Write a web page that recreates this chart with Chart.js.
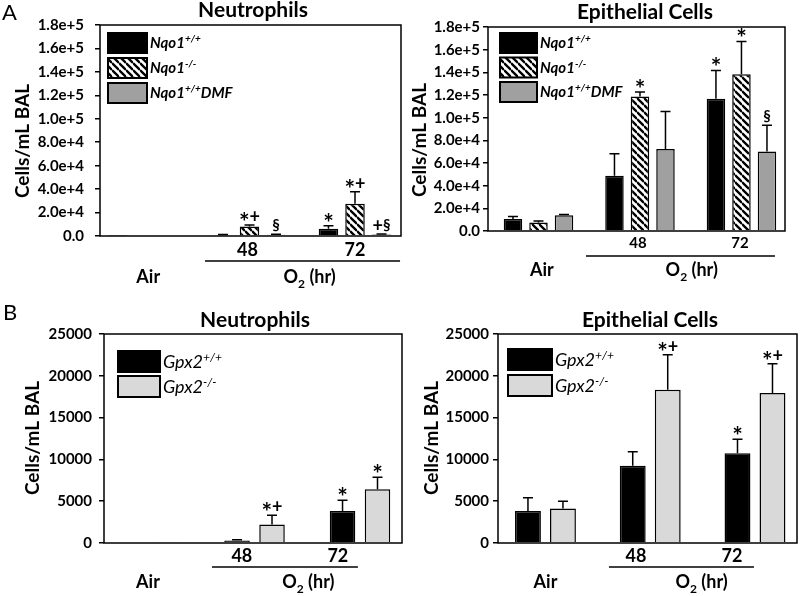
<!DOCTYPE html>
<html>
<head>
<meta charset="utf-8">
<script src="https://cdn.jsdelivr.net/npm/chart.js@4.4.1/dist/chart.umd.min.js"></script>
<style>
  html, body { margin: 0; background: #fff; }
  #wrap { position: relative; width: 800px; height: 596px; }
  #wrap canvas { position: absolute; left: 0; top: 0; }
</style>
</head>
<body>
<div id="wrap">
  <canvas id="aNeu" width="800" height="596"></canvas>
  <canvas id="aEpi" width="800" height="596"></canvas>
  <canvas id="bNeu" width="800" height="596"></canvas>
  <canvas id="bEpi" width="800" height="596"></canvas>
</div>
<script>
// groups on the x axis
const groups = ['Air', '48', '72'];

// y tick labels
const yTicksNqo = ['0.0', '2.0e+4', '4.0e+4', '6.0e+4', '8.0e+4', '1.0e+5', '1.2e+5', '1.4e+5', '1.6e+5', '1.8e+5'];
const yTicksGpx = ['0', '5000', '10000', '15000', '20000', '25000'];

// A - Nqo1, neutrophils (cells/mL BAL), error = SEM above the bar
const nqoWtNeu = [300, 900, 6200];
const nqoWtNeuErr = [0, 300, 2600];
const nqoWtNeuSig = ['', '', '*'];
const nqoKoNeu = [400, 8000, 27600];
const nqoKoNeuErr = [0, 1400, 10200];
const nqoKoNeuSig = ['', '*+', '*+'];
const nqoDmfNeu = [700, 1000, 1200];
const nqoDmfNeuErr = [0, 500, 600];
const nqoDmfNeuSig = ['', '§', '+§'];

// A - Nqo1, epithelial cells
const nqoWtEpi = [10600, 48800, 116700];
const nqoWtEpiErr = [2300, 19400, 25000];
const nqoWtEpiSig = ['', '', '*'];
const nqoKoEpi = [7600, 118700, 138200];
const nqoKoEpiErr = [1200, 3900, 29100];
const nqoKoEpiSig = ['', '*', '*'];
const nqoDmfEpi = [13800, 72300, 70200];
const nqoDmfEpiErr = [800, 33200, 23000];
const nqoDmfEpiSig = ['', '', '§'];

// B - Gpx2, neutrophils
const gpxWtNeu = [0, 290, 3840];
const gpxWtNeuErr = [0, 110, 1260];
const gpxWtNeuSig = ['', '', '*'];
const gpxKoNeu = [60, 2200, 6440];
const gpxKoNeuErr = [0, 1120, 1410];
const gpxKoNeuSig = ['', '*+', '*'];

// B - Gpx2, epithelial cells
const gpxWtEpi = [3840, 9240, 10730];
const gpxWtEpiErr = [1560, 1680, 1670];
const gpxWtEpiSig = ['', '', '*'];
const gpxKoEpi = [4130, 18320, 17930];
const gpxKoEpiErr = [870, 4200, 3510];
const gpxKoEpiSig = ['', '*+', '*+'];

// legend names (rich text parts)
const nqoNames = [
  [{ t: 'Nqo1' }, { t: '+/+', sup: true }],
  [{ t: 'Nqo1' }, { t: '-/-', sup: true }],
  [{ t: 'Nqo1' }, { t: '+/+', sup: true }, { t: 'DMF' }],
];
const gpxNames = [
  [{ t: 'Gpx2' }, { t: '+/+', sup: true }],
  [{ t: 'Gpx2' }, { t: '-/-', sup: true }],
];

const FONT = 'Lato';

// diagonal hatch used for the Nqo1-/- bars
const hatch = (() => {
  const t = document.createElement('canvas');
  t.width = 7; t.height = 7;
  const g = t.getContext('2d');
  g.fillStyle = '#fff';
  g.fillRect(0, 0, 7, 7);
  g.strokeStyle = '#000';
  g.lineWidth = 2.3;
  g.beginPath();
  for (let k = -1; k <= 1; k++) { g.moveTo(0, k * 7); g.lineTo(7, 7 + k * 7); }
  g.stroke();
  return g.createPattern(t, 'repeat');
})();

const richParts = (ctx, parts, size, style, draw, x, y) => {
  let cx = x;
  parts.forEach((p) => {
    const s = p.sup || p.sub ? Math.round(size * 0.68) : size;
    ctx.font = `${style} ${s}px ${FONT}`;
    const dy = p.sup ? -size * 0.4 : p.sub ? size * 0.25 : 0;
    if (draw) ctx.fillText(p.t, cx, y + dy);
    cx += ctx.measureText(p.t).width;
  });
  return cx - x;
};
const drawRich = (ctx, parts, x, y, size, style, align) => {
  ctx.textAlign = 'left';
  ctx.textBaseline = 'alphabetic';
  let sx = x;
  if (align === 'center') sx = x - richParts(ctx, parts, size, style, false, 0, 0) / 2;
  richParts(ctx, parts, size, style, true, sx, y);
};

// significance glyphs: size and baseline shift against the error cap
const sigGlyph = { '*': [25, 6], '+': [18, -2], '§': [15, -4] };
const drawSig = (ctx, text, cx, capY) => {
  const chars = [...text];
  const widths = chars.map((c) => {
    ctx.font = `bold ${sigGlyph[c][0]}px ${FONT}`;
    return ctx.measureText(c).width;
  });
  let x = cx - widths.reduce((s, w) => s + w, 0) / 2;
  ctx.textAlign = 'left';
  ctx.textBaseline = 'alphabetic';
  chars.forEach((c, i) => {
    ctx.font = `bold ${sigGlyph[c][0]}px ${FONT}`;
    ctx.fillText(c, x, capY + sigGlyph[c][1]);
    x += widths[i];
  });
};

const o2Label = [{ t: 'O' }, { t: '2', sub: true }, { t: ' (hr)' }];

const panels = [
  {
    id: 'aNeu',
    area: { left: 100, right: 401, top: 25, bottom: 236 },
    xRange: [-0.417, 2.436],
    yMax: 180000, yStep: 20000, yLabels: yTicksNqo, tickPad: 11,
    catPct: 0.754, barPct: 0.736,
    title: { text: 'Neutrophils', x: 253, y: 17 },
    yTitle: { x: 23, y: 141 },
    letter: { text: 'A', x: 2, y: 20 },
    series: [
      { data: nqoWtNeu, err: nqoWtNeuErr, sig: nqoWtNeuSig, fill: '#000', name: nqoNames[0] },
      { data: nqoKoNeu, err: nqoKoNeuErr, sig: nqoKoNeuSig, fill: hatch, name: nqoNames[1] },
      { data: nqoDmfNeu, err: nqoDmfNeuErr, sig: nqoDmfNeuSig, fill: '#a0a0a0', name: nqoNames[2] },
    ],
    legend: { x: 108, y: 33, step: 25, w: 39, h: 20, size: 15, style: 'italic bold' },
    xl: { pos: [0.04, 0.98, 2.0], row1: 256, row2: 283, lineY: 261, line: [0.578, 2.427], o2: 1.57, size1: 18, size2: 18 },
  },
  {
    id: 'aEpi',
    area: { left: 488, right: 785, top: 27, bottom: 231 },
    xRange: [-0.4975, 2.429],
    yMax: 180000, yStep: 20000, yLabels: yTicksNqo, tickPad: 3,
    catPct: 0.754, barPct: 0.725,
    title: { text: 'Epithelial Cells', x: 645, y: 19 },
    yTitle: { x: 420, y: 140 },
    letter: null,
    series: [
      { data: nqoWtEpi, err: nqoWtEpiErr, sig: nqoWtEpiSig, fill: '#000', name: nqoNames[0] },
      { data: nqoKoEpi, err: nqoKoEpiErr, sig: nqoKoEpiSig, fill: hatch, name: nqoNames[1] },
      { data: nqoDmfEpi, err: nqoDmfEpiErr, sig: nqoDmfEpiSig, fill: '#a0a0a0', name: nqoNames[2] },
    ],
    legend: { x: 500, y: 33, step: 24.5, w: 37, h: 20, size: 15, style: 'italic bold' },
    xl: { pos: [0.034, 0.98, 1.985], row1: 248, row2: 276, lineY: 256, line: [0.468, 2.33], o2: 1.51, size1: 15, size2: 18 },
  },
  {
    id: 'bNeu',
    area: { left: 104, right: 402, top: 334, bottom: 543 },
    xRange: [-0.427, 2.398],
    yMax: 25000, yStep: 5000, yLabels: yTicksGpx, tickPad: 7,
    catPct: 0.663, barPct: 0.73,
    title: { text: 'Neutrophils', x: 255, y: 327 },
    yTitle: { x: 33, y: 438 },
    letter: { text: 'B', x: 3, y: 320 },
    series: [
      { data: gpxWtNeu, err: gpxWtNeuErr, sig: gpxWtNeuSig, fill: '#000', name: gpxNames[0] },
      { data: gpxKoNeu, err: gpxKoNeuErr, sig: gpxKoNeuSig, fill: '#d9d9d9', name: gpxNames[1] },
    ],
    legend: { x: 118, y: 351, step: 25, w: 42, h: 21, size: 18, style: 'italic' },
    xl: { pos: [-0.01, 0.88, 1.79], row1: 562, row2: 588, lineY: 567, line: [0.597, 1.98], o2: 1.51, size1: 18, size2: 18 },
  },
  {
    id: 'bEpi',
    area: { left: 498, right: 797, top: 334, bottom: 543 },
    xRange: [-0.453, 2.401],
    yMax: 25000, yStep: 5000, yLabels: yTicksGpx, tickPad: 4,
    catPct: 0.668, barPct: 0.74,
    title: { text: 'Epithelial Cells', x: 650, y: 327 },
    yTitle: { x: 432, y: 438 },
    letter: null,
    series: [
      { data: gpxWtEpi, err: gpxWtEpiErr, sig: gpxWtEpiSig, fill: '#000', name: gpxNames[0] },
      { data: gpxKoEpi, err: gpxKoEpiErr, sig: gpxKoEpiSig, fill: '#d9d9d9', name: gpxNames[1] },
    ],
    legend: { x: 508, y: 349, step: 26, w: 44, h: 21, size: 18, style: 'italic' },
    xl: { pos: [0, 0.864, 1.78], row1: 562, row2: 588, lineY: 567, line: [0.606, 1.99], o2: 1.49, size1: 18, size2: 18 },
  },
];

const panelPlugin = (p) => ({
  id: 'panel_' + p.id,
  afterDatasetsDraw(chart) {
    const { ctx, chartArea: a, scales: { y } } = chart;
    ctx.save();
    // error bars and significance marks
    chart.data.datasets.forEach((ds, di) => {
      const meta = chart.getDatasetMeta(di);
      meta.data.forEach((bar, i) => {
        const top = y.getPixelForValue(ds.data[i].y + ds.err[i]);
        ctx.strokeStyle = '#000';
        ctx.lineWidth = 1.5;
        if (ds.err[i] > 0) {
          ctx.beginPath();
          ctx.moveTo(bar.x, bar.y);
          ctx.lineTo(bar.x, top);
          ctx.moveTo(bar.x - 5, top);
          ctx.lineTo(bar.x + 5, top);
          ctx.stroke();
        }
        if (ds.sig[i]) {
          ctx.fillStyle = '#000';
          drawSig(ctx, ds.sig[i], bar.x, top);
        }
      });
    });
    // plot frame
    ctx.strokeStyle = '#000';
    ctx.lineWidth = 1.5;
    ctx.strokeRect(a.left, a.top, a.right - a.left, a.bottom - a.top);
    ctx.restore();
  },
  afterDraw(chart) {
    const { ctx, scales: { x } } = chart;
    ctx.save();
    ctx.fillStyle = '#000';
    // title
    ctx.font = `bold 21px ${FONT}`;
    ctx.textAlign = 'center';
    ctx.textBaseline = 'alphabetic';
    ctx.fillText(p.title.text, p.title.x, p.title.y);
    // panel letter
    if (p.letter) {
      ctx.font = `22px ${FONT}`;
      ctx.textAlign = 'left';
      ctx.fillText(p.letter.text, p.letter.x, p.letter.y);
    }
    // y title
    ctx.save();
    ctx.translate(p.yTitle.x, p.yTitle.y);
    ctx.rotate(-Math.PI / 2);
    ctx.font = `bold 19px ${FONT}`;
    ctx.textAlign = 'center';
    ctx.textBaseline = 'middle';
    ctx.fillText('Cells/mL BAL', 0, 0);
    ctx.restore();
    // legend
    const L = p.legend;
    chart.data.datasets.forEach((ds, i) => {
      const by = L.y + i * L.step;
      ctx.fillStyle = ds.backgroundColor;
      ctx.fillRect(L.x, by, L.w, L.h);
      ctx.strokeStyle = '#000';
      ctx.lineWidth = 2;
      ctx.strokeRect(L.x, by, L.w, L.h);
      ctx.fillStyle = '#000';
      drawRich(ctx, p.series[i].name, L.x + L.w + 3, by + L.h / 2 + L.size * 0.36, L.size, L.style);
    });
    // x labels: hours on the first row, Air on the second row
    const xl = p.xl;
    ctx.font = `bold ${xl.size1}px ${FONT}`;
    ctx.textAlign = 'center';
    ctx.textBaseline = 'alphabetic';
    for (let i = 1; i < groups.length; i++) {
      ctx.fillText(groups[i], x.getPixelForValue(xl.pos[i]), xl.row1);
    }
    ctx.font = `bold ${xl.size2}px ${FONT}`;
    ctx.fillText(groups[0], x.getPixelForValue(xl.pos[0]), xl.row2);
    drawRich(ctx, o2Label, x.getPixelForValue(xl.o2), xl.row2, xl.size2, 'bold', 'center');
    ctx.strokeStyle = '#000';
    ctx.lineWidth = 1.5;
    ctx.beginPath();
    ctx.moveTo(x.getPixelForValue(xl.line[0]), xl.lineY);
    ctx.lineTo(x.getPixelForValue(xl.line[1]), xl.lineY);
    ctx.stroke();
    ctx.restore();
  },
});

panels.forEach((p) => {
  new Chart(document.getElementById(p.id), {
    type: 'bar',
    data: {
      datasets: p.series.map((s) => ({
        data: s.data.map((v, i) => ({ x: i, y: v })),
        err: s.err,
        sig: s.sig,
        backgroundColor: s.fill,
        borderColor: '#000',
        borderWidth: 1.5,
        categoryPercentage: p.catPct,
        barPercentage: p.barPct,
      })),
    },
    options: {
      responsive: false,
      animation: false,
      events: [],
      layout: { padding: { left: 0, top: p.area.top, right: 800 - p.area.right, bottom: 596 - p.area.bottom } },
      plugins: { legend: { display: false }, tooltip: { enabled: false } },
      scales: {
        x: {
          type: 'linear', display: false, offset: false, min: p.xRange[0], max: p.xRange[1],
          ticks: { stepSize: 1, includeBounds: false },
        },
        y: {
          min: 0, max: p.yMax,
          ticks: {
            stepSize: p.yStep,
            callback: (v, i) => p.yLabels[i],
            color: '#000',
            padding: p.tickPad,
            font: { family: FONT, weight: 'bold', size: 15 },
          },
          grid: { display: true, drawOnChartArea: false, drawTicks: true, tickLength: 5, color: '#000', lineWidth: 1.5 },
          border: { display: false },
          afterFit: (s) => { s.width = p.area.left; },
        },
      },
    },
    plugins: [panelPlugin(p)],
  });
});
</script>
</body>
</html>
